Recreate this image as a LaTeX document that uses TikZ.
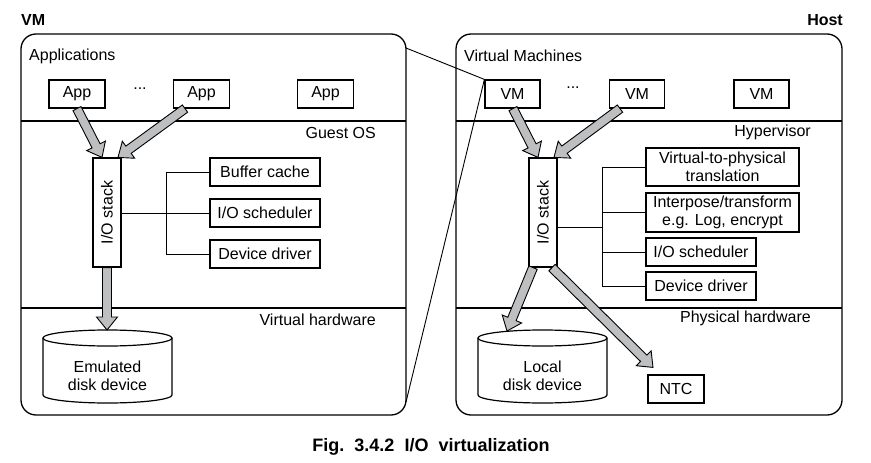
\documentclass[tikz,border=0pt]{standalone}
\usepackage{fontspec}
\setmainfont{Liberation Sans}
\usetikzlibrary{calc}
\definecolor{arrowgray}{RGB}{190,191,193}
\tikzset{
  panel/.style={draw,line width=1.3pt,rounded corners=15pt},
  layer/.style={line width=1.3pt},
  unit/.style={draw,line width=1.2pt,inner sep=0pt,align=center,
    font=\fontsize{16}{18.5}\selectfont},
  label/.style={inner sep=0pt,font=\fontsize{16}{18.5}\selectfont},
  head/.style={inner sep=0pt,font=\fontsize{16}{18}\selectfont\bfseries},
  bus/.style={line width=0.8pt},
  fatarrow/.style={fill=arrowgray,draw=black,line width=0.9pt,line join=miter},
}
\begin{document}
\begin{tikzpicture}[x=1pt,y=-1pt]
   \newcommand{\fatarrow}[2]{%
     \path (#1) coordinate (fas) (#2) coordinate (fae);
     \path ($(fae)!13pt!(fas)$) coordinate (fah);
     \filldraw[fatarrow] ($(fas)!4.5pt!90:(fae)$) -- ($(fah)!4.5pt!-90:(fas)$)
       -- ($(fah)!10.5pt!-90:(fas)$) -- (fae) -- ($(fah)!10.5pt!90:(fas)$)
       -- ($(fah)!4.5pt!90:(fas)$) -- ($(fas)!4.5pt!-90:(fae)$) -- cycle;}
   \useasboundingbox (0,0) rectangle (871,463);
   % headings
   \node[head,anchor=west] (vmhead) at (21,20) {VM};
   \node[head,anchor=east] (hosthead) at (843,20) {Host};
   % ---- VM side ----
   \draw[panel] (21,34) rectangle (406,415);
   \draw[layer] (21,121) -- (406,121);
   \draw[layer] (21,308) -- (406,308);
   \coordinate (vmtr) at (406,48);
   \coordinate (vmbr) at (406,402);
   \node[label,anchor=west] (apps) at (29,56) {Applications};
   \node[label,anchor=east] (guest) at (376,133) {Guest OS};
   \node[label,anchor=east] (vhw) at (376,320) {Virtual hardware};
   \node[unit,minimum width=56,minimum height=28] (appL1) at (77,94) {App};
   \node[unit,minimum width=56,minimum height=28] (appL2) at (201.5,94) {App};
   \node[unit,minimum width=56,minimum height=28] (appL3) at (325.5,94) {App};
   \node[label] (dotsL) at (140,89) {...};
   \node[unit,minimum width=28,minimum height=109] (iostackL) at (107,212.5) {};
   \node[label,rotate=90] at (iostackL) {I/O stack};
   \node[unit,minimum width=110,minimum height=28] (bufL) at (265,172) {Buffer cache};
   \node[unit,minimum width=110,minimum height=28] (schedL) at (265,213) {I/O scheduler};
   \node[unit,minimum width=110,minimum height=28] (drvL) at (265,254) {Device driver};
   \coordinate (busL) at (166,213);
   \draw[bus] (bufL.west) -- (bufL.west -| busL) -- (drvL.west -| busL) -- (drvL.west);
   \draw[bus] (iostackL.east |- schedL.west) -- (schedL.west);
   % emulated disk
   \draw[line width=1.2pt] (107.5,338) ellipse [x radius=64.5,y radius=8];
   \draw[line width=1.2pt] (43,338) -- (43,395)
     arc[start angle=180,end angle=0,x radius=64.5,y radius=8] -- (172,338);
   \coordinate (diskLtop) at (107,330);
   \node[label,align=center] (diskL) at (107.5,376) {Emulated\\disk device};
   \fatarrow{appL1.south}{[xshift=-5pt]iostackL.north}
   \fatarrow{[xshift=-16.5pt]appL2.south}{[xshift=11pt]iostackL.north}
   \fatarrow{iostackL.south}{diskLtop}
   % ---- Host side ----
   \draw[panel] (456,34) rectangle (842,415);
   \draw[layer] (456,121) -- (842,121);
   \draw[layer] (456,308) -- (842,308);
   \node[label,anchor=west] (vms) at (464,56) {Virtual Machines};
   \node[label,anchor=east] (hyper) at (811,132) {Hypervisor};
   \node[label,anchor=east] (phw) at (811,318) {Physical hardware};
   \node[unit,minimum width=55,minimum height=28] (vmR1) at (512.5,94) {VM};
   \node[unit,minimum width=55,minimum height=28] (vmR2) at (637,94) {VM};
   \node[unit,minimum width=55,minimum height=28] (vmR3) at (761.5,94) {VM};
   \node[label] (dotsR) at (573,88) {...};
   \node[unit,minimum width=28,minimum height=109] (iostackR) at (543,212.5) {};
   \node[label,rotate=90] at (iostackR) {I/O stack};
   \node[unit,minimum width=153,minimum height=38] (v2p) at (722.5,167) {Virtual-to-physical\\translation};
   \node[unit,minimum width=153,minimum height=39] (interp) at (722.5,212.5) {Interpose/transform\\e.g. Log, encrypt};
   \node[unit,minimum width=110,minimum height=28] (schedR) at (701,252) {I/O scheduler};
   \node[unit,minimum width=110,minimum height=28] (drvR) at (701,286) {Device driver};
   \node[unit,minimum width=56,minimum height=28] (ntc) at (676,389) {NTC};
   \coordinate (busR) at (602,227);
   \draw[bus] (v2p.west) -- (v2p.west -| busR) -- (drvR.west -| busR) -- (drvR.west);
   \draw[bus] (interp.west -| busR) -- (interp.west);
   \draw[bus] (schedR.west -| busR) -- (schedR.west);
   \draw[bus] (iostackR.east |- busR) -- (busR);
   % local disk
   \draw[line width=1.2pt] (542.5,338) ellipse [x radius=64.5,y radius=8];
   \draw[line width=1.2pt] (478,338) -- (478,395)
     arc[start angle=180,end angle=0,x radius=64.5,y radius=8] -- (607,338);
   \coordinate (diskRtop) at (507,331);
   \node[label,align=center] (diskR) at (542.5,376) {Local\\disk device};
   \fatarrow{[xshift=0.5pt]vmR1.south}{[xshift=-5pt]iostackR.north}
   \fatarrow{[xshift=-17pt]vmR2.south}{[xshift=11pt]iostackR.north}
   \fatarrow{[xshift=-10pt]iostackR.south}{diskRtop}
   \fatarrow{[xshift=9pt]iostackR.south}{[shift={(-23pt,7pt)}]ntc.north}
   % zoom lines
   \draw[line width=0.9pt] (vmtr) -- (vmR1.north west) -- (vmbr);
   % caption
   \node[inner sep=0pt,font=\fontsize{18}{20}\selectfont\bfseries] (caption) at (431,447)
     {Fig.~~3.4.2~~I/O~~virtualization};
\end{tikzpicture}
\end{document}
